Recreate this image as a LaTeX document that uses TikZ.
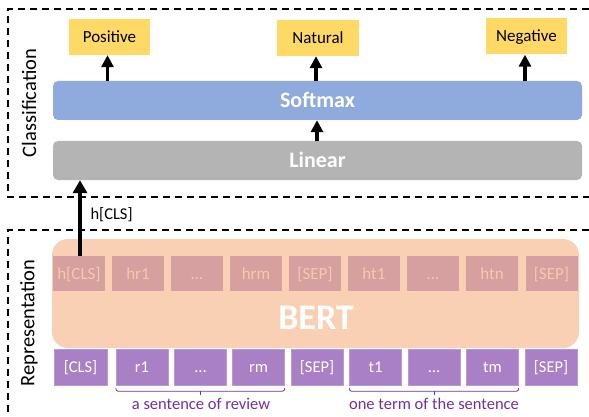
\documentclass[tikz,border=0pt]{standalone}
\usepackage{fontspec}
\setmainfont{Carlito}
\usetikzlibrary{arrows.meta,calc}
\definecolor{cyel}{HTML}{FFD966}
\definecolor{csm}{HTML}{8FAADC}
\definecolor{clin}{HTML}{B4B4B4}
\definecolor{cbert}{HTML}{F9D0B4}
\definecolor{chid}{HTML}{D5A09F}
\definecolor{chidtxt}{HTML}{F5CAAC}
\definecolor{cinp}{HTML}{A980C5}
\definecolor{cbrace}{HTML}{7030A0}
\tikzset{
  fs/.style={font=\fontsize{#1}{#1}\selectfont},
  outbox/.style={fill=cyel, minimum width=81pt, minimum height=36pt, inner sep=0pt, fs=17, text height=11pt, text depth=0pt},
  bar/.style={minimum width=529pt, minimum height=39pt, inner sep=0pt, rounded corners=5pt, text=white, font=\fontsize{22}{22}\selectfont\bfseries, text height=14pt, text depth=0pt},
  hidbox/.style={fill=chid, minimum width=52pt, minimum height=35pt, inner sep=0pt, text=chidtxt, fs=17, text height=11pt, text depth=0pt},
  inpbox/.style={fill=cinp, draw=cinp!80!white, line width=0.4pt, minimum width=52pt, minimum height=36pt, inner sep=0pt, text=white, fs=16.5, text height=10.6pt, text depth=0pt},
  arr/.style={line width=3.5pt, -{Triangle[length=12pt,width=12pt]}},
  bigarr/.style={line width=4.5pt, -{Triangle[length=13pt,width=14pt]}},
  dashbox/.style={line width=1.4pt, dash pattern=on 7pt off 5pt},
  bracel/.style={draw=cbrace, line width=0.8pt},
  bracet/.style={text=cbrace, fs=16.5},
  side/.style={rotate=90, fs=20.5}
}
\begin{document}
\begin{tikzpicture}[x=1pt,y=-1pt]
\useasboundingbox (0,0) rectangle (589,417);
% dashed frames
\draw[dashbox] (589,9) -- (8,9) -- (8,197) -- (589,197);
\draw[dashbox] (589,230) -- (8,230) -- (8,417);
\node[side] (lcls) at (29,103) {Classification};
\node[side] (lrep) at (29,323) {Representation};
% classification part
\node[outbox] (pos) at (109.5,37) {Positive};
\node[outbox, minimum width=82pt] (nat) at (318,38) {Natural};
\node[outbox] (neg) at (526.5,36.5) {Negative};
\node[bar, fill=csm] (sm) at (317.5,100.5) {Softmax};
\node[bar, fill=clin] (lin) at (317.5,160.5) {Linear};
\draw[arr] ([xshift=-2pt]pos.south |- sm.north) -- ([xshift=-2pt]pos.south);
\draw[arr] ([xshift=-2pt]nat.south |- sm.north) -- ([xshift=-2pt]nat.south);
\draw[arr] ([xshift=-1.5pt]neg.south |- sm.north) -- ([xshift=-1.5pt]neg.south);
\draw[arr] ([xshift=-1pt]nat.south |- lin.north) -- ([xshift=-1pt]nat.south |- sm.south);
% BERT
\node[fill=cbert, minimum width=527pt, minimum height=109pt, inner sep=0pt, rounded corners=16pt] (bert) at (315.5,293.5) {};
\node[text=white, font=\fontsize{36}{36}\selectfont\bfseries] (berttxt) at (316,318) {BERT};
\node[hidbox] (h0) at (79,273.5) {h[CLS]};
\node[hidbox] (h1) at (138,273.5) {hr1};
\node[hidbox] (h2) at (197,273.5) {…};
\node[hidbox] (h3) at (256,273.5) {hrm};
\node[hidbox] (h4) at (315,273.5) {[SEP]};
\node[hidbox] (h5) at (374,273.5) {ht1};
\node[hidbox] (h6) at (433,273.5) {…};
\node[hidbox] (h7) at (492,273.5) {htn};
\node[hidbox] (h8) at (551.5,273.5) {[SEP]};
% inputs
\node[inpbox, minimum width=53pt] (i0) at (80.5,367) {[CLS]};
\node[inpbox] (i1) at (142,367) {r1};
\node[inpbox] (i2) at (200.5,367) {…};
\node[inpbox] (i3) at (258.5,367) {rm};
\node[inpbox] (i4) at (317,367) {[SEP]};
\node[inpbox] (i5) at (375.5,367) {t1};
\node[inpbox] (i6) at (434,367) {…};
\node[inpbox] (i7) at (492.5,367) {tm};
\node[inpbox] (i8) at (551,367) {[SEP]};
% h[CLS] arrow
\draw[bigarr] ([xshift=1pt]h0.north) -- ([xshift=1pt]h0.north |- lin.south);
\node[anchor=west, fs=16.5] (hlab) at (87,215) {h[CLS]};
% braces
\coordinate (b1l) at ($(i1.south west)+(0,3)$);
\coordinate (b1r) at ($(i3.south east)+(0,3)$);
\coordinate (b2l) at ($(i5.south west)+(0,3)$);
\coordinate (b2r) at ($(i7.south east)+(0,3)$);
\draw[bracel] (b1l) to[out=-90,in=180] ($(b1l)+(2,3)$) -- ($(b1r)+(-2,3)$) to[out=0,in=-90] (b1r);
\draw[bracel] ($(b1l)!0.5!(b1r)+(0,3)$) -- ($(b1l)!0.5!(b1r)+(0,7)$);
\draw[bracel] (b2l) to[out=-90,in=180] ($(b2l)+(2,3)$) -- ($(b2r)+(-2,3)$) to[out=0,in=-90] (b2r);
\draw[bracel] ($(b2l)!0.5!(b2r)+(0,3)$) -- ($(b2l)!0.5!(b2r)+(0,7)$);
\node[bracet] (t1) at (201,404) {a sentence of review};
\node[bracet] (t2) at (434,404) {one term of the sentence};
\end{tikzpicture}
\end{document}
